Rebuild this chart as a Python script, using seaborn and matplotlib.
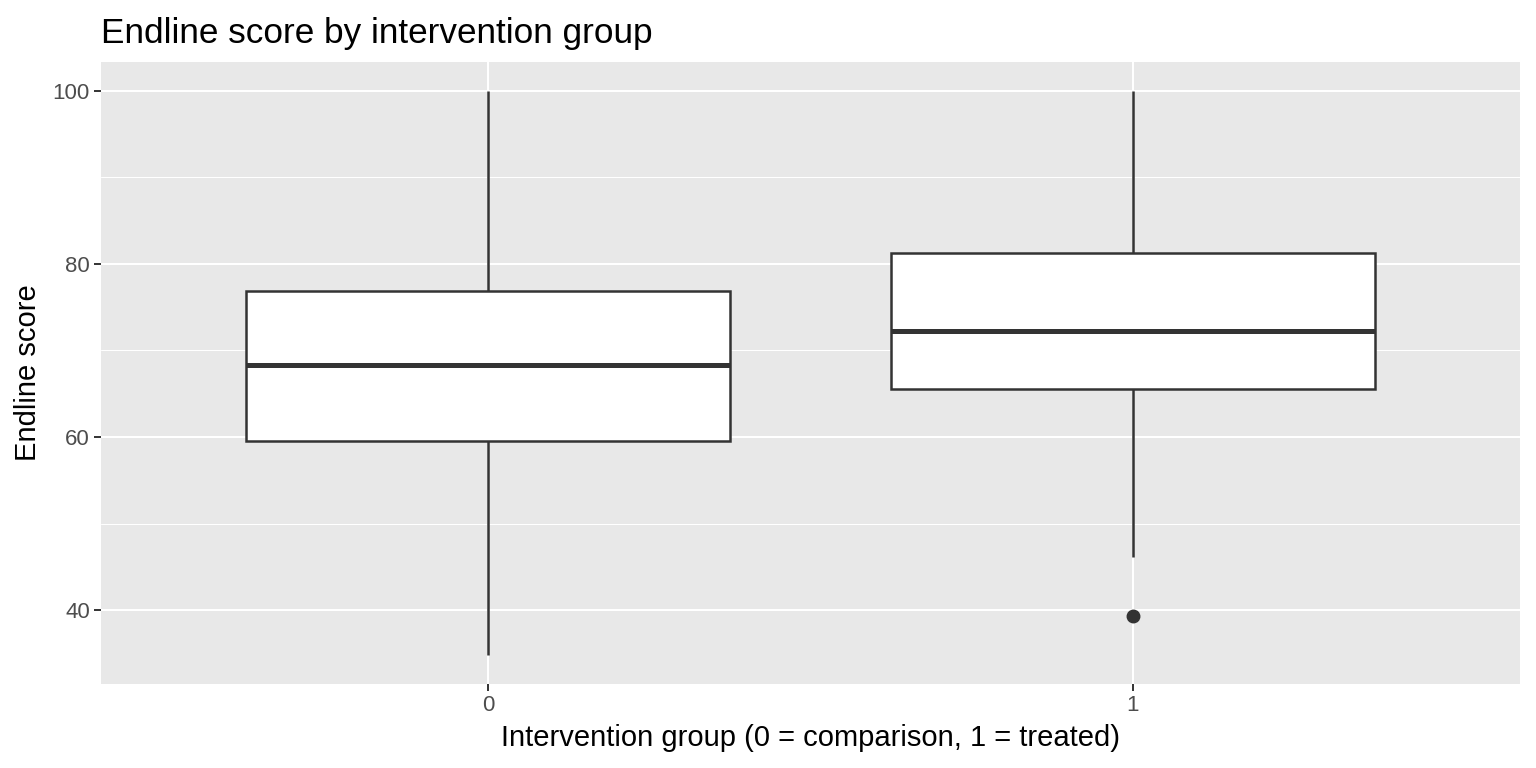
import pandas as pd
import matplotlib
matplotlib.use("Agg")
import matplotlib.pyplot as plt
from matplotlib.ticker import MultipleLocator
import seaborn as sns

# values
groups = ["0", "1"]
scores_0 = [34.8, 59.5, 68.3, 76.9, 100.0]
scores_1 = [39.3, 46.2, 65.6, 69.0, 72.3, 76.0, 81.2, 90.0, 100.0]

df = pd.DataFrame({
    "group": ["0"] * len(scores_0) + ["1"] * len(scores_1),
    "score": scores_0 + scores_1,
})

sns.set_theme(style="darkgrid", rc={
    "axes.facecolor": "#E8E8E8",
    "grid.color": "white",
    "grid.linewidth": 1.5,
    "xtick.bottom": True,
    "ytick.left": True,
    "xtick.major.size": 5,
    "ytick.major.size": 5,
    "xtick.major.width": 1.4,
    "ytick.major.width": 1.4,
    "xtick.color": "#333333",
    "ytick.color": "#333333",
    "xtick.labelcolor": "#4D4D4D",
    "ytick.labelcolor": "#4D4D4D",
    "text.color": "black",
    "axes.labelcolor": "black",
})
plt.rcParams["font.family"] = ["Liberation Sans", "DejaVu Sans"]

fig, ax = plt.subplots(figsize=(15.36, 7.68), dpi=100)
fig.subplots_adjust(left=101 / 1536, right=1520 / 1536, top=1 - 62 / 768, bottom=1 - 684 / 768)

sns.boxplot(
    data=df, x="group", y="score", order=groups, ax=ax,
    width=0.75, color="white", linecolor="#333333", linewidth=1.8,
    saturation=1, whis=1.5, showcaps=False,
    medianprops=dict(linewidth=3.6, color="#333333"),
    flierprops=dict(marker="o", markersize=9, markerfacecolor="#333333",
                    markeredgecolor="#333333"),
)

ax.set_xlim(-0.6, 1.6)
ax.set_ylim(31.5, 103.3)
ax.yaxis.set_major_locator(MultipleLocator(20))
ax.yaxis.set_minor_locator(MultipleLocator(10))
ax.grid(which="major", axis="both", color="white", linewidth=1.5)
ax.grid(which="minor", axis="y", color="white", linewidth=0.75)
ax.tick_params(axis="y", which="minor", length=0)
ax.set_axisbelow(True)
for s in ax.spines.values():
    s.set_visible(False)

ax.tick_params(axis="both", which="major", labelsize=16, pad=3)
ax.set_title("Endline score by intervention group", loc="left", fontsize=25.3, pad=14)
ax.set_xlabel("Intervention group (0 = comparison, 1 = treated)", fontsize=21, labelpad=6)
ax.set_ylabel("Endline score", fontsize=21, labelpad=8)

fig.savefig("out.png", dpi=100)
